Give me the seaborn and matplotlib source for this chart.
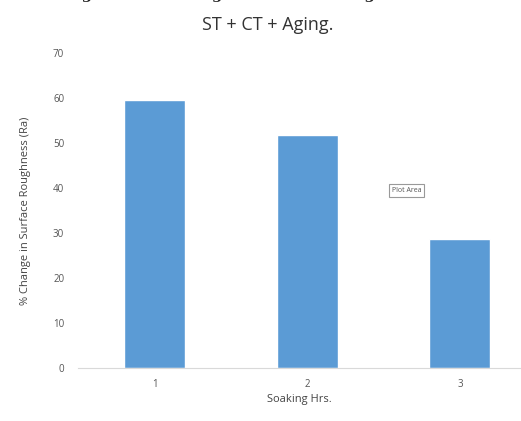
import pandas as pd
import matplotlib
matplotlib.use("Agg")
import matplotlib.pyplot as plt
import seaborn as sns

# data
soaking_hrs = ["1", "2", "3"]
pct_change = [59.6, 51.8, 28.7]
y_ticks = [0, 10, 20, 30, 40, 50, 60, 70]

df = pd.DataFrame({"hrs": soaking_hrs, "change": pct_change})

sns.set_style("white")
plt.rcParams['font.family'] = ['Open Sans', 'DejaVu Sans']

fig = plt.figure(figsize=(5.21, 4.21), dpi=100)
ax = fig.add_axes([0.15, 0.126, 0.85, 0.748])

sns.barplot(data=df, x="hrs", y="change", color="#5B9BD5", width=0.4,
            saturation=1, ax=ax)

ax.set_xlim(-0.5, 2.4)
ax.set_ylim(0, 70)
ax.set_yticks(y_ticks)
ax.tick_params(axis='both', length=0, labelsize=7, colors='#555555')
ax.tick_params(axis='y', pad=10)
ax.tick_params(axis='x', pad=8)

for s in ['top', 'right', 'left']:
    ax.spines[s].set_visible(False)
ax.spines['bottom'].set_color('#d9d9d9')

ax.set_xlabel("Soaking Hrs.", fontsize=8, color='#444444', labelpad=3)
ax.set_ylabel("% Change in Surface Roughness (Ra)", fontsize=8, color='#444444', labelpad=16)

# titles (the first line is cut off at the top edge in the screenshot)
fig.text(268 / 521, 1.012, "Figure 6: % Change in Surface Roughness after",
         ha='center', va='center', fontsize=11, fontweight='bold',
         family=['DejaVu Serif'])
fig.text(268 / 521, 1 - 25 / 421, "ST + CT + Aging.", ha='center', va='center',
         fontsize=13, color='#333333')

# the "Plot Area" hover tip left in the screenshot
ax.text(1.65, 39.5, "Plot Area", fontsize=5, color='#555555', ha='center', va='center',
        bbox=dict(boxstyle='square,pad=0.4', fc='white', ec='#999999', lw=0.8))

plt.savefig("out.png", dpi=100)
